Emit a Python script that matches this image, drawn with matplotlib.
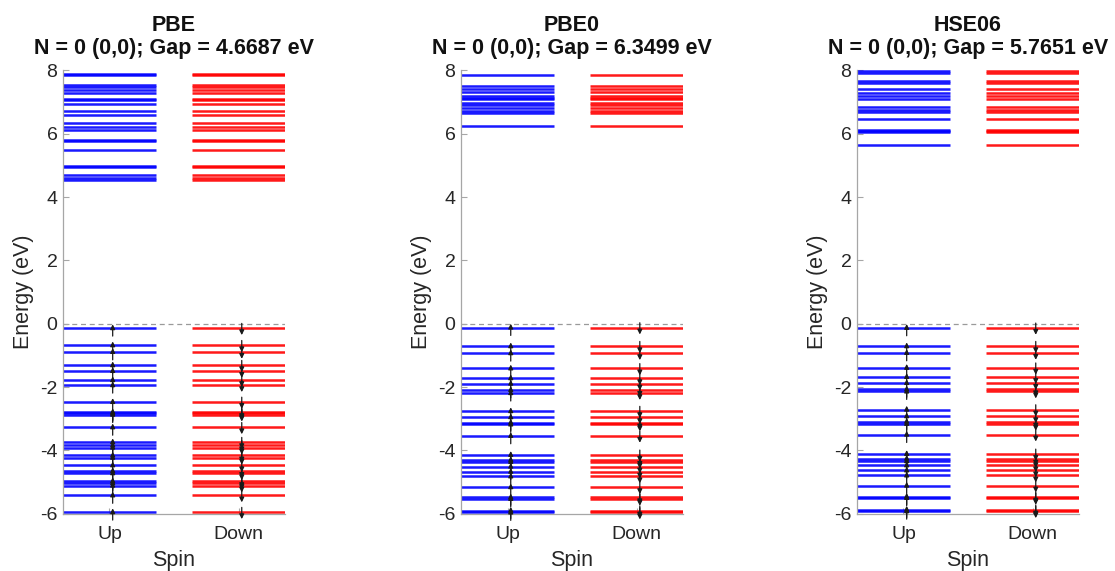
import matplotlib
matplotlib.use("Agg")
import matplotlib.pyplot as plt

plt.rcParams["font.family"] = ["Liberation Sans", "DejaVu Sans"]

# --- Data ---
methods = ["PBE", "PBE0", "HSE06"]
gaps = [4.6687, 6.3499, 5.7651]
spin_labels = ["Up", "Down"]
spin_pos = [1, 2]
spin_colors = ["#0000ff", "#ff0000"]

pbe_occ = [-0.14, -0.68, -0.89, -1.31, -1.49, -1.78, -1.94, -2.47, -2.79,
           -2.83, -2.87, -3.27, -3.74, -3.84, -3.91, -4.16, -4.23, -4.47,
           -4.65, -4.72, -4.97, -5.03, -5.11, -5.42, -5.95]
pbe_empty = [4.53, 4.61, 4.69, 4.96, 4.98, 5.48, 5.78, 5.80, 6.13, 6.22,
             6.34, 6.59, 6.72, 6.95, 7.06, 7.11, 7.27, 7.38, 7.46, 7.53,
             7.85, 7.88]

pbe0_occ = [-0.12, -0.71, -0.93, -1.41, -1.72, -1.89, -2.09, -2.19, -2.76,
            -2.95, -3.12, -3.18, -3.54, -4.14, -4.30, -4.36, -4.51, -4.67,
            -4.82, -5.16, -5.48, -5.53, -5.90, -5.96]
pbe0_empty = [6.23, 6.66, 6.72, 6.80, 6.90, 6.97, 7.08, 7.13, 7.20, 7.32,
              7.40, 7.50, 7.85]

hse_occ = [-0.13, -0.71, -0.92, -1.39, -1.68, -1.87, -2.07, -2.14, -2.71,
           -2.92, -3.09, -3.16, -3.50, -4.11, -4.26, -4.34, -4.47, -4.63,
           -4.79, -5.11, -5.46, -5.50, -5.87, -5.92]
hse_empty = [5.64, 6.04, 6.08, 6.13, 6.46, 6.69, 6.75, 6.85, 7.11, 7.19,
             7.27, 7.40, 7.60, 7.66, 7.91, 7.97]

occupied = [pbe_occ, pbe0_occ, hse_occ]
unoccupied = [pbe_empty, pbe0_empty, hse_empty]

yticks = [-6, -4, -2, 0, 2, 4, 6, 8]

# --- Figure ---
fig = plt.figure(figsize=(11.15, 5.71), dpi=100)
lefts = [0.0565, 0.4135, 0.7686]
half = 0.36
text_col = "#262626"
axis_col = "#a6a6a6"

for i, method in enumerate(methods):
    ax = fig.add_axes([lefts[i], 0.1003, 0.1991, 0.7765])
    ax.set_xlim(1 - half, 2 + half)
    ax.set_ylim(-6, 8)

    ax.plot([1 - half, 2 + half], [0, 0], color="#9a9a9a", lw=0.9,
            ls=(0, (4, 3)), zorder=1)

    for s, x in enumerate(spin_pos):
        all_levels = occupied[i] + unoccupied[i]
        ax.hlines(all_levels, x - half, x + half, color=spin_colors[s],
                  lw=1.8, alpha=0.9, zorder=2)

        # electrons: up arrows for spin up, down arrows for spin down
        for e in occupied[i]:
            if s == 0:
                tail, tip = e - 0.25, e + 0.12
            else:
                tail, tip = e + 0.15, e - 0.22
            ax.annotate("", xy=(x + 0.025, tip), xytext=(x + 0.025, tail),
                        arrowprops=dict(arrowstyle="-|>", color="#1a1a1a",
                                        lw=0.9, mutation_scale=7,
                                        shrinkA=0, shrinkB=0),
                        annotation_clip=False, zorder=3)

    ax.set_title(f"{method}\nN = 0 (0,0); Gap = {gaps[i]:.4f} eV",
                 fontsize=15.5, fontweight="bold", color="#111111",
                 linespacing=1.12, pad=12)

    ax.set_xticks(spin_pos)
    ax.set_xticklabels(spin_labels)
    ax.set_yticks(yticks)
    ax.set_yticklabels([str(t) for t in yticks])
    ax.tick_params(direction="in", length=4, width=0.8, color=axis_col,
                   labelsize=14, labelcolor=text_col)
    ax.tick_params(axis="x", pad=9)
    ax.tick_params(axis="y", pad=4)

    for side in ["top", "right"]:
        ax.spines[side].set_visible(False)
    for side in ["left", "bottom"]:
        ax.spines[side].set_color(axis_col)
        ax.spines[side].set_linewidth(0.9)

    ax.set_xlabel("Spin", fontsize=15.5, color=text_col, labelpad=5)
    ax.set_ylabel("Energy (eV)", fontsize=15.5, color=text_col, labelpad=4)

fig.savefig("out.png", dpi=100)
